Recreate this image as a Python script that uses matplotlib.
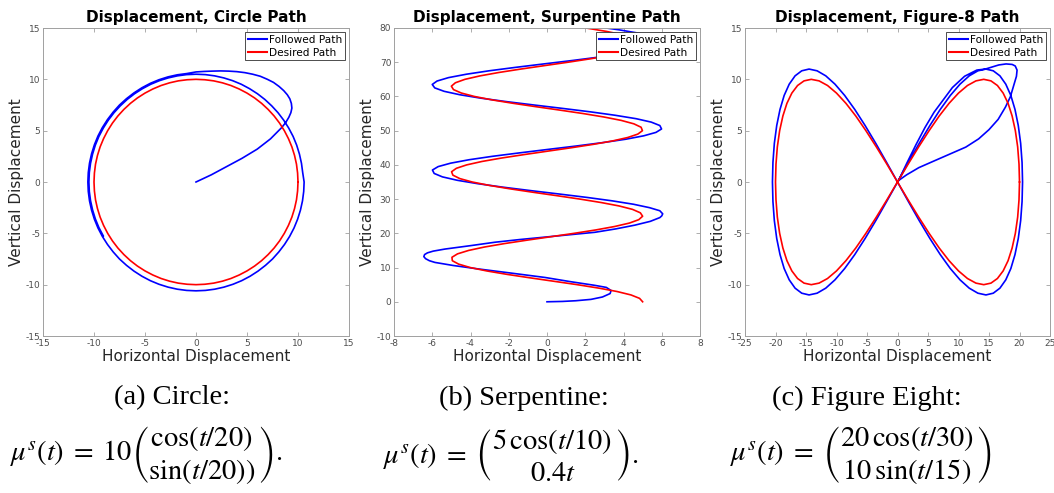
import matplotlib
matplotlib.use("Agg")
import matplotlib.pyplot as plt

# ---------------- data ----------------
circle_desired_x = [10.00, 9.96, 9.85, 9.66, 9.40, 9.06, 8.66, 8.19, 7.66, 7.07, 6.43, 5.74, 5.00, 4.23, 3.42, 2.59, 1.74, 0.87, 0.00,
                    -0.87, -1.74, -2.59, -3.42, -4.23, -5.00, -5.74, -6.43, -7.07, -7.66, -8.19, -8.66, -9.06, -9.40, -9.66, -9.85, -9.96, -10.00,
                    -9.96, -9.85, -9.66, -9.40, -9.06, -8.66, -8.19, -7.66, -7.07, -6.43, -5.74, -5.00, -4.23, -3.42, -2.59, -1.74, -0.87, 0.00,
                    0.87, 1.74, 2.59, 3.42, 4.23, 5.00, 5.74, 6.43, 7.07, 7.66, 8.19, 8.66, 9.06, 9.40, 9.66, 9.85, 9.96, 10.00]
circle_desired_y = [0.00, 0.87, 1.74, 2.59, 3.42, 4.23, 5.00, 5.74, 6.43, 7.07, 7.66, 8.19, 8.66, 9.06, 9.40, 9.66, 9.85, 9.96, 10.00,
                    9.96, 9.85, 9.66, 9.40, 9.06, 8.66, 8.19, 7.66, 7.07, 6.43, 5.74, 5.00, 4.23, 3.42, 2.59, 1.74, 0.87, 0.00,
                    -0.87, -1.74, -2.59, -3.42, -4.23, -5.00, -5.74, -6.43, -7.07, -7.66, -8.19, -8.66, -9.06, -9.40, -9.66, -9.85, -9.96, -10.00,
                    -9.96, -9.85, -9.66, -9.40, -9.06, -8.66, -8.19, -7.66, -7.07, -6.43, -5.74, -5.00, -4.23, -3.42, -2.59, -1.74, -0.87, 0.00]

circle_followed_x = [0.0, 1.5, 3.0, 4.5, 6.0, 7.3, 8.4, 8.8, 9.1, 9.3, 9.4, 9.35, 9.2, 8.95, 8.6, 8.15, 7.6, 7.0,
                     6.3, 5.55, 4.8, 4.0, 3.2, 2.4, 1.6, 0.8, 0.0,
                     -0.92, -1.84, -2.74, -3.63, -4.48, -5.30, -6.08, -6.81, -7.50, -8.12, -8.68, -9.18, -9.61,
                     -9.96, -10.24, -10.44, -10.56, -10.60, -10.56, -10.44, -10.24, -9.96, -9.61, -9.18, -8.68,
                     -8.12, -7.50, -6.81, -6.08, -5.30, -4.48, -3.63, -2.74, -1.84, -0.92, 0.00,
                     0.92, 1.84, 2.74, 3.63, 4.48, 5.30, 6.08, 6.81, 7.50, 8.12, 8.68, 9.18, 9.61,
                     9.96, 10.24, 10.44, 10.56, 10.60,
                     10.46, 10.34, 10.14, 9.87, 9.52, 9.09, 8.60, 8.04, 7.42, 6.75, 6.02, 5.25, 4.44,
                     3.59, 2.72, 1.82, 0.92, 0.00,
                     -0.92, -1.82, -2.72, -3.59, -4.44, -5.25, -6.02, -6.75, -7.42, -8.04, -8.60, -9.09,
                     -9.52, -9.87, -10.14, -10.34, -10.46, -10.50, -10.46, -10.34, -10.14, -9.87, -9.52, -9.09]
circle_followed_y = [0.0, 0.7, 1.5, 2.3, 3.2, 4.2, 5.3, 5.8, 6.3, 6.75, 7.2, 7.65, 8.1, 8.5, 8.9, 9.3, 9.7, 10.0,
                     10.3, 10.5, 10.65, 10.75, 10.8, 10.82, 10.8, 10.77, 10.72,
                     10.56, 10.44, 10.24, 9.96, 9.61, 9.18, 8.68, 8.12, 7.50, 6.81, 6.08, 5.30, 4.48,
                     3.63, 2.74, 1.84, 0.92, 0.00, -0.92, -1.84, -2.74, -3.63, -4.48, -5.30, -6.08,
                     -6.81, -7.50, -8.12, -8.68, -9.18, -9.61, -9.96, -10.24, -10.44, -10.56, -10.60,
                     -10.56, -10.44, -10.24, -9.96, -9.61, -9.18, -8.68, -8.12, -7.50, -6.81, -6.08, -5.30, -4.48,
                     -3.63, -2.74, -1.84, -0.92, 0.00,
                     0.92, 1.82, 2.72, 3.59, 4.44, 5.25, 6.02, 6.75, 7.42, 8.04, 8.60, 9.09, 9.52,
                     9.87, 10.14, 10.34, 10.46, 10.50,
                     10.46, 10.34, 10.14, 9.87, 9.52, 9.09, 8.60, 8.04, 7.42, 6.75, 6.02, 5.25,
                     4.44, 3.59, 2.72, 1.82, 0.92, 0.00, -0.92, -1.82, -2.72, -3.59, -4.44, -5.25]

serp_desired_x = [5.00, 4.84, 4.39, 3.66, 2.70, 1.58, 0.35, -0.89, -2.08, -3.14,
                  -4.01, -4.62, -4.95, -4.97, -4.68, -4.10, -3.27, -2.23, -1.05, 0.19,
                  1.42, 2.56, 3.54, 4.31, 4.80, 5.00, 4.88, 4.47, 3.77, 2.83,
                  1.73, 0.52, -0.73, -1.93, -3.01, -3.91, -4.56, -4.92, -4.99, -4.74,
                  -4.20, -3.40, -2.38, -1.21, 0.02, 1.26, 2.42, 3.43, 4.22, 4.75,
                  4.99, 4.92, 4.54, 3.88, 2.97, 1.89, 0.68, -0.57, -1.78, -2.88,
                  -3.80, -4.48, -4.89, -5.00, -4.79, -4.29, -3.51, -2.52, -1.37, -0.14,
                  1.10, 2.27, 3.30, 4.13, 4.70, 4.98, 4.94, 4.60, 3.98, 3.11, 2.04]
serp_desired_y = [0, 1, 2, 3, 4, 5, 6, 7, 8, 9, 10, 11, 12, 13, 14, 15, 16, 17, 18, 19,
                  20, 21, 22, 23, 24, 25, 26, 27, 28, 29, 30, 31, 32, 33, 34, 35, 36, 37, 38, 39,
                  40, 41, 42, 43, 44, 45, 46, 47, 48, 49, 50, 51, 52, 53, 54, 55, 56, 57, 58, 59,
                  60, 61, 62, 63, 64, 65, 66, 67, 68, 69, 70, 71, 72, 73, 74, 75, 76, 77, 78, 79, 80]

serp_followed_x = [0.0, 0.8, 1.5, 2.3, 2.9, 3.3, 3.35, 3.1, 2.5, 1.2, -0.1, -1.9, -3.6, -4.9, -5.86,
                   -6.15, -6.35, -6.44, -6.40, -6.25, -5.95, -5.34, -4.0, -2.72, -1.4, -0.1, 1.2, 2.5,
                   3.6, 4.6, 5.4, 5.9, 6.0, 6.05, 5.95, 5.9,
                   5.36, 4.52, 3.40, 2.08, 0.62, -0.88, -2.32, -3.61, -4.69, -5.47,
                   -5.90, -5.99, -5.69, -5.04, -4.08, -2.86, -1.45, 0.02, 1.51, 2.90,
                   4.12, 5.06, 5.70, 5.99, 5.90, 5.45, 4.66, 3.56, 2.27, 0.82,
                   -0.68, -2.14, -3.46, -4.56, -5.38, -5.87, -6.00, -5.75, -5.15, -4.21,
                   -3.02, -1.64, -0.17, 1.32, 2.72, 3.96, 4.96, 5.64, 5.98, 5.93,
                   5.52, 4.78, 3.73, 2.45]
serp_followed_y = [0.0, 0.1, 0.3, 0.7, 1.4, 2.4, 3.3, 4.2, 4.8, 5.9, 7.1, 8.4, 9.6, 10.6, 11.5,
                   12.0, 12.6, 13.2, 13.8, 14.3, 14.8, 15.4, 16.4, 17.4, 18.2, 18.9, 19.6, 20.3,
                   21.3, 22.4, 23.5, 24.6, 25.1, 25.7, 26.3, 26.6,
                   27.5, 28.5, 29.5, 30.5, 31.5, 32.5, 33.5, 34.5, 35.5, 36.5,
                   37.5, 38.5, 39.5, 40.5, 41.5, 42.5, 43.5, 44.5, 45.5, 46.5,
                   47.5, 48.5, 49.5, 50.5, 51.5, 52.5, 53.5, 54.5, 55.5, 56.5,
                   57.5, 58.5, 59.5, 60.5, 61.5, 62.5, 63.5, 64.5, 65.5, 66.5,
                   67.5, 68.5, 69.5, 70.5, 71.5, 72.5, 73.5, 74.5, 75.5, 76.5,
                   77.5, 78.5, 79.5, 80.5]

fig8_desired_x = [20.00, 19.92, 19.70, 19.32, 18.79, 18.13, 17.32, 16.38, 15.32, 14.14,
                  12.86, 11.47, 10.00, 8.45, 6.84, 5.18, 3.47, 1.74, 0.00,
                  -1.74, -3.47, -5.18, -6.84, -8.45, -10.00, -11.47, -12.86, -14.14,
                  -15.32, -16.38, -17.32, -18.13, -18.79, -19.32, -19.70, -19.92, -20.00,
                  -19.92, -19.70, -19.32, -18.79, -18.13, -17.32, -16.38, -15.32, -14.14,
                  -12.86, -11.47, -10.00, -8.45, -6.84, -5.18, -3.47, -1.74, 0.00,
                  1.74, 3.47, 5.18, 6.84, 8.45, 10.00, 11.47, 12.86, 14.14,
                  15.32, 16.38, 17.32, 18.13, 18.79, 19.32, 19.70, 19.92, 20.00]
fig8_desired_y = [0.00, 1.74, 3.42, 5.00, 6.43, 7.66, 8.66, 9.40, 9.85, 10.00,
                  9.85, 9.40, 8.66, 7.66, 6.43, 5.00, 3.42, 1.74, 0.00,
                  -1.74, -3.42, -5.00, -6.43, -7.66, -8.66, -9.40, -9.85, -10.00,
                  -9.85, -9.40, -8.66, -7.66, -6.43, -5.00, -3.42, -1.74, 0.00,
                  1.74, 3.42, 5.00, 6.43, 7.66, 8.66, 9.40, 9.85, 10.00,
                  9.85, 9.40, 8.66, 7.66, 6.43, 5.00, 3.42, 1.74, 0.00,
                  -1.74, -3.42, -5.00, -6.43, -7.66, -8.66, -9.40, -9.85, -10.00,
                  -9.85, -9.40, -8.66, -7.66, -6.43, -5.00, -3.42, -1.74, 0.00]

fig8_followed_x = [0.0, 0.3, 1.5, 3.5, 5.8, 8.5, 11.2, 13.3, 15.0, 16.5, 17.7, 18.5, 19.0, 19.5, 19.6,
                   19.3, 18.8, 17.8, 16.6, 15.5, 14.4, 13.0, 11.0, 9.0, 7.5, 6.0, 4.5, 3.0, 1.5, 0.3,
                   -1.79, -3.56, -5.31, -7.01, -8.66, -10.25, -11.76, -13.18, -14.50,
                   -15.70, -16.79, -17.75, -18.58, -19.26, -19.80, -20.19, -20.42, -20.50,
                   -20.42, -20.19, -19.80, -19.26, -18.58, -17.75, -16.79, -15.70, -14.50,
                   -13.18, -11.76, -10.25, -8.66, -7.01, -5.31, -3.56, -1.79, 0.00,
                   1.79, 3.56, 5.31, 7.01, 8.66, 10.25, 11.76, 13.18, 14.50,
                   15.70, 16.79, 17.75, 18.58, 19.26, 19.80, 20.19, 20.42, 20.50,
                   20.42, 20.19, 19.80, 19.26, 18.58, 17.75, 16.79, 15.70, 14.50,
                   13.18, 11.76, 10.25, 8.66, 7.01, 5.31, 3.56, 1.79, 0.00]
fig8_followed_y = [0.0, 0.2, 0.7, 1.4, 2.0, 2.7, 3.4, 4.2, 5.1, 6.1, 7.3, 8.3, 9.3, 10.3, 10.9,
                   11.3, 11.45, 11.5, 11.4, 11.2, 11.0, 10.9, 10.3, 9.2, 8.0, 6.8, 5.3, 3.6, 1.8, 0.3,
                   -1.91, -3.76, -5.50, -7.07, -8.43, -9.53, -10.34, -10.83, -11.00,
                   -10.83, -10.34, -9.53, -8.43, -7.07, -5.50, -3.76, -1.91, 0.00,
                   1.91, 3.76, 5.50, 7.07, 8.43, 9.53, 10.34, 10.83, 11.00,
                   10.83, 10.34, 9.53, 8.43, 7.07, 5.50, 3.76, 1.91, 0.00,
                   -1.91, -3.76, -5.50, -7.07, -8.43, -9.53, -10.34, -10.83, -11.00,
                   -10.83, -10.34, -9.53, -8.43, -7.07, -5.50, -3.76, -1.91, 0.00,
                   1.91, 3.76, 5.50, 7.07, 8.43, 9.53, 10.34, 10.83, 11.00,
                   10.83, 10.34, 9.53, 8.43, 7.07, 5.50, 3.76, 1.91, 0.00]

titles = ["Displacement, Circle Path", "Displacement, Surpentine Path", "Displacement, Figure-8 Path"]
legend_labels = ["Followed Path", "Desired Path"]
x_label = "Horizontal Displacement"
y_label = "Vertical Displacement"
circle_xticks = [-15, -10, -5, 0, 5, 10, 15]
circle_yticks = [-15, -10, -5, 0, 5, 10, 15]
serp_xticks = [-8, -6, -4, -2, 0, 2, 4, 6, 8]
serp_yticks = [-10, 0, 10, 20, 30, 40, 50, 60, 70, 80]
fig8_xticks = [-25, -20, -15, -10, -5, 0, 5, 10, 15, 20, 25]
fig8_yticks = [-15, -10, -5, 0, 5, 10, 15]

caption_titles = ["(a) Circle:", "(b) Serpentine:", "(c) Figure Eight:"]
caption_eqs = [r"$\mu^s(t)\;=\;10\genfrac{(}{)}{0}{0}{\cos(t/20)}{\sin(t/20))}.$",
               r"$\mu^s(t)\;=\;\genfrac{(}{)}{0}{0}{5\,\cos(t/10)}{0.4t}.$",
               r"$\mu^s(t)\;=\;\genfrac{(}{)}{0}{0}{20\,\cos(t/30)}{10\,\sin(t/15)}$"]

# ---------------- figure ----------------
plt.rcParams['mathtext.fontset'] = 'stix'
W, H = 1054, 493
fig = plt.figure(figsize=(W / 100, H / 100), dpi=100)

def px_axes(left, top, right, bottom):
    return fig.add_axes([left / W, 1 - bottom / H, (right - left) / W, (bottom - top) / H])

frame_col = '#a0a0a0'
panels = [
    (px_axes(43, 28, 349, 336), circle_followed_x, circle_followed_y, circle_desired_x, circle_desired_y,
     (-15, 15), (-15, 15), circle_xticks, circle_yticks),
    (px_axes(394, 28, 700, 336), serp_followed_x, serp_followed_y, serp_desired_x, serp_desired_y,
     (-8, 8), (-10, 80), serp_xticks, serp_yticks),
    (px_axes(745, 28, 1050, 336), fig8_followed_x, fig8_followed_y, fig8_desired_x, fig8_desired_y,
     (-25, 25), (-15, 15), fig8_xticks, fig8_yticks),
]

for i, (ax, fx, fy, dx, dy, xl, yl, xt, yt) in enumerate(panels):
    ax.plot(fx, fy, color=(0, 0, 1), lw=1.2, label=legend_labels[0], solid_joinstyle='round')
    ax.plot(dx, dy, color=(1, 0, 0), lw=1.2, label=legend_labels[1], solid_joinstyle='round')
    ax.set_xlim(*xl)
    ax.set_ylim(*yl)
    ax.set_xticks(xt)
    ax.set_yticks(yt)
    ax.set_xticklabels([str(v) for v in xt])
    ax.set_yticklabels([str(v) for v in yt])
    ax.tick_params(direction='in', top=True, right=True, length=3, width=0.6,
                   color=frame_col, labelsize=6.5, labelcolor='#4d4d4d', pad=2)
    for sp in ax.spines.values():
        sp.set_color(frame_col)
        sp.set_linewidth(0.7)
    ax.set_title(titles[i], fontsize=11, fontweight='bold', pad=4)
    ax.set_xlabel(x_label, fontsize=11, color='#262626', labelpad=1)
    ax.set_ylabel(y_label, fontsize=11, color='#262626', labelpad=1)
    leg = ax.legend(loc='upper right', fontsize=7.6, handlelength=1.8, handletextpad=0.2,
                    borderpad=0.25, labelspacing=0.25, borderaxespad=0.4, fancybox=False,
                    framealpha=1, edgecolor='#303030')
    leg.get_frame().set_linewidth(0.6)
    for ln in leg.get_lines():
        ln.set_linewidth(1.5)

cap_title_x = [172, 524, 867]
cap_eq_x = [10, 383, 730]
for i in range(3):
    fig.text(cap_title_x[i] / W, 1 - 398 / H, caption_titles[i], ha='center', va='center',
             fontsize=20.5, family='Liberation Serif')
    fig.text(cap_eq_x[i] / W, 1 - 455 / H, caption_eqs[i], ha='left', va='center', fontsize=20.5)

fig.savefig("out.png", dpi=100)
